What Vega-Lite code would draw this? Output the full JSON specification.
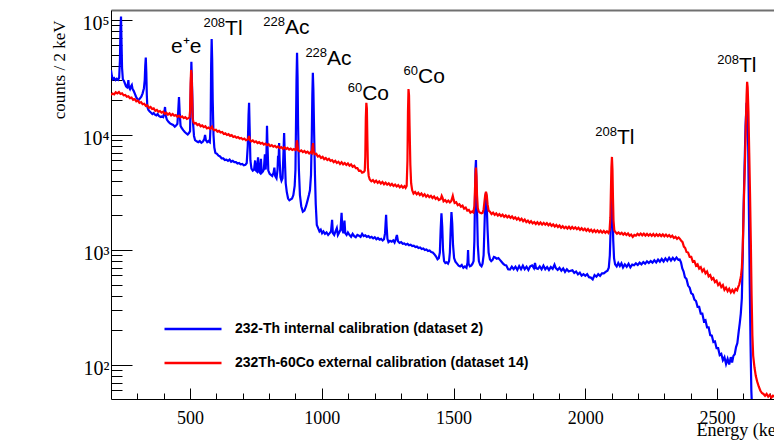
{
"$schema": "https://vega.github.io/schema/vega-lite/v6.json",
"width": 663, "height": 389,
"autosize": {"type": "none"},
"padding": {"left": 111, "top": 10, "right": 0, "bottom": 43},
"background": "white",
"config": {"view": {"stroke": null}, "axis": {"grid": false, "domainColor": "black", "tickColor": "black", "labelColor": "black", "titleColor": "black"}},
"resolve": {"axis": {"x": "independent", "y": "independent"}},
"datasets": {
"blue": [
{"E":200,"c":36500},{"E":203,"c":33000},{"E":207,"c":30500},{"E":212,"c":31200},{"E":217,"c":30000},{"E":222,"c":30800},{"E":227,"c":30200},{"E":231,"c":31500},{"E":234,"c":45000},{"E":236,"c":85000},{"E":238,"c":107000},{"E":240,"c":62000},{"E":242,"c":38000},{"E":245,"c":30500},{"E":249,"c":29500},{"E":253,"c":28000},{"E":257,"c":26500},{"E":261,"c":26000},{"E":264,"c":27500},{"E":266,"c":30000},{"E":268,"c":26000},{"E":272,"c":25000},{"E":276,"c":26500},{"E":279,"c":27200},{"E":282,"c":25000},{"E":286,"c":24200},{"E":290,"c":23000},{"E":295,"c":21500},{"E":300,"c":20500},{"E":305,"c":20100},{"E":310,"c":20800},{"E":315,"c":21500},{"E":320,"c":23000},{"E":325,"c":25500},{"E":328,"c":30000},{"E":330,"c":40000},{"E":332,"c":47000},{"E":334,"c":35000},{"E":336,"c":22000},{"E":338,"c":17500},{"E":342,"c":16500},{"E":347,"c":16000},{"E":352,"c":15600},{"E":357,"c":15200},{"E":362,"c":15500},{"E":367,"c":15000},{"E":372,"c":14800},{"E":377,"c":15200},{"E":382,"c":14600},{"E":388,"c":14300},{"E":393,"c":14500},{"E":398,"c":14300},{"E":402,"c":15500},{"E":405,"c":17500},{"E":408,"c":14600},{"E":412,"c":13600},{"E":418,"c":13000},{"E":424,"c":12600},{"E":430,"c":12400},{"E":436,"c":12200},{"E":442,"c":11800},{"E":447,"c":12100},{"E":452,"c":12500},{"E":455,"c":16000},{"E":458,"c":21400},{"E":461,"c":15000},{"E":464,"c":12000},{"E":468,"c":11500},{"E":474,"c":11000},{"E":480,"c":10600},{"E":486,"c":10300},{"E":491,"c":10100},{"E":496,"c":10400},{"E":500,"c":10800},{"E":502,"c":20000},{"E":505,"c":43200},{"E":508,"c":25000},{"E":511,"c":13000},{"E":515,"c":9800},{"E":519,"c":9000},{"E":525,"c":8800},{"E":531,"c":8650},{"E":537,"c":8850},{"E":543,"c":8550},{"E":549,"c":8750},{"E":554,"c":9200},{"E":557,"c":10000},{"E":560,"c":9000},{"E":565,"c":8650},{"E":570,"c":8850},{"E":575,"c":8650},{"E":578,"c":12000},{"E":580,"c":40000},{"E":582,"c":68300},{"E":584,"c":45000},{"E":586,"c":20000},{"E":589,"c":10000},{"E":592,"c":7800},{"E":596,"c":7000},{"E":602,"c":6850},{"E":608,"c":6600},{"E":614,"c":6500},{"E":620,"c":6250},{"E":626,"c":6250},{"E":632,"c":6050},{"E":638,"c":6100},{"E":644,"c":5950},{"E":650,"c":6100},{"E":656,"c":5850},{"E":662,"c":5950},{"E":668,"c":5800},{"E":674,"c":5800},{"E":680,"c":5650},{"E":686,"c":5700},{"E":692,"c":5560},{"E":698,"c":5600},{"E":704,"c":5450},{"E":710,"c":5500},{"E":715,"c":5700},{"E":719,"c":8000},{"E":722,"c":15000},{"E":724,"c":19000},{"E":726,"c":12000},{"E":729,"c":6000},{"E":733,"c":5100},{"E":738,"c":4900},{"E":743,"c":5000},{"E":747,"c":6000},{"E":750,"c":4900},{"E":754,"c":4800},{"E":758,"c":6400},{"E":761,"c":4800},{"E":765,"c":4700},{"E":769,"c":6200},{"E":772,"c":4700},{"E":776,"c":4800},{"E":780,"c":5000},{"E":784,"c":6800},{"E":787,"c":5000},{"E":790,"c":7000},{"E":792,"c":12000},{"E":794,"c":8000},{"E":797,"c":4900},{"E":802,"c":4600},{"E":807,"c":4500},{"E":812,"c":4400},{"E":817,"c":4700},{"E":820,"c":5200},{"E":823,"c":4400},{"E":828,"c":4200},{"E":832,"c":5000},{"E":834,"c":6600},{"E":836,"c":6000},{"E":838,"c":8500},{"E":840,"c":6000},{"E":843,"c":4300},{"E":847,"c":4000},{"E":851,"c":4200},{"E":854,"c":6500},{"E":857,"c":10400},{"E":860,"c":6000},{"E":863,"c":3800},{"E":867,"c":3200},{"E":872,"c":2800},{"E":877,"c":2700},{"E":882,"c":2750},{"E":887,"c":2800},{"E":892,"c":3000},{"E":897,"c":3600},{"E":900,"c":5000},{"E":902,"c":12000},{"E":904,"c":30000},{"E":906,"c":51700},{"E":908,"c":32000},{"E":910,"c":12000},{"E":913,"c":5000},{"E":917,"c":3000},{"E":922,"c":2400},{"E":928,"c":2150},{"E":934,"c":2200},{"E":940,"c":2400},{"E":946,"c":2700},{"E":951,"c":3000},{"E":955,"c":3300},{"E":959,"c":4500},{"E":962,"c":10000},{"E":964,"c":22000},{"E":966,"c":34700},{"E":968,"c":25000},{"E":971,"c":10000},{"E":974,"c":4500},{"E":977,"c":2500},{"E":981,"c":1650},{"E":986,"c":1550},{"E":991,"c":1450},{"E":996,"c":1500},{"E":1001,"c":1400},{"E":1006,"c":1450},{"E":1012,"c":1380},{"E":1018,"c":1420},{"E":1024,"c":1350},{"E":1030,"c":1400},{"E":1035,"c":1450},{"E":1039,"c":1830},{"E":1042,"c":1400},{"E":1047,"c":1350},{"E":1052,"c":1450},{"E":1057,"c":1550},{"E":1061,"c":1350},{"E":1066,"c":1420},{"E":1071,"c":1500},{"E":1075,"c":2100},{"E":1078,"c":1500},{"E":1082,"c":1400},{"E":1086,"c":1800},{"E":1089,"c":1400},{"E":1094,"c":1350},{"E":1099,"c":1420},{"E":1105,"c":1350},{"E":1111,"c":1300},{"E":1117,"c":1380},{"E":1123,"c":1320},{"E":1129,"c":1290},{"E":1135,"c":1350},{"E":1141,"c":1330},{"E":1147,"c":1300},{"E":1153,"c":1380},{"E":1159,"c":1320},{"E":1165,"c":1340},{"E":1171,"c":1300},{"E":1177,"c":1320},{"E":1183,"c":1280},{"E":1189,"c":1300},{"E":1195,"c":1260},{"E":1201,"c":1290},{"E":1207,"c":1240},{"E":1213,"c":1270},{"E":1219,"c":1230},{"E":1225,"c":1250},{"E":1231,"c":1210},{"E":1236,"c":1240},{"E":1240,"c":1400},{"E":1242,"c":1700},{"E":1244,"c":2020},{"E":1246,"c":1600},{"E":1249,"c":1250},{"E":1253,"c":1170},{"E":1259,"c":1200},{"E":1265,"c":1180},{"E":1271,"c":1210},{"E":1276,"c":1160},{"E":1281,"c":1250},{"E":1285,"c":1350},{"E":1289,"c":1190},{"E":1295,"c":1150},{"E":1301,"c":1170},{"E":1307,"c":1130},{"E":1313,"c":1140},{"E":1319,"c":1110},{"E":1325,"c":1130},{"E":1331,"c":1100},{"E":1337,"c":1110},{"E":1343,"c":1080},{"E":1349,"c":1090},{"E":1355,"c":1060},{"E":1361,"c":1070},{"E":1367,"c":1040},{"E":1373,"c":1050},{"E":1379,"c":1020},{"E":1385,"c":1030},{"E":1391,"c":1000},{"E":1397,"c":1010},{"E":1403,"c":980},{"E":1409,"c":990},{"E":1415,"c":960},{"E":1421,"c":950},{"E":1427,"c":920},{"E":1433,"c":880},{"E":1439,"c":830},{"E":1444,"c":850},{"E":1448,"c":950},{"E":1451,"c":1500},{"E":1454,"c":2080},{"E":1457,"c":1600},{"E":1460,"c":1000},{"E":1464,"c":800},{"E":1469,"c":770},{"E":1474,"c":780},{"E":1479,"c":760},{"E":1483,"c":800},{"E":1486,"c":950},{"E":1489,"c":1500},{"E":1492,"c":2140},{"E":1495,"c":1700},{"E":1498,"c":1100},{"E":1502,"c":850},{"E":1507,"c":790},{"E":1513,"c":760},{"E":1519,"c":730},{"E":1525,"c":720},{"E":1531,"c":740},{"E":1537,"c":700},{"E":1543,"c":720},{"E":1549,"c":700},{"E":1553,"c":780},{"E":1555,"c":1000},{"E":1557,"c":760},{"E":1562,"c":720},{"E":1567,"c":730},{"E":1572,"c":760},{"E":1576,"c":800},{"E":1579,"c":1200},{"E":1581,"c":2500},{"E":1583,"c":5000},{"E":1585,"c":6050},{"E":1587,"c":3500},{"E":1589,"c":2200},{"E":1592,"c":1100},{"E":1596,"c":800},{"E":1601,"c":740},{"E":1606,"c":720},{"E":1610,"c":760},{"E":1614,"c":900},{"E":1617,"c":1500},{"E":1620,"c":2600},{"E":1623,"c":3130},{"E":1626,"c":2400},{"E":1629,"c":1500},{"E":1633,"c":950},{"E":1638,"c":830},{"E":1643,"c":800},{"E":1648,"c":820},{"E":1653,"c":870},{"E":1658,"c":860},{"E":1664,"c":840},{"E":1670,"c":850},{"E":1676,"c":820},{"E":1682,"c":790},{"E":1688,"c":760},{"E":1694,"c":740},{"E":1700,"c":735},{"E":1707,"c":680},{"E":1714,"c":675},{"E":1721,"c":715},{"E":1728,"c":680},{"E":1735,"c":715},{"E":1742,"c":670},{"E":1749,"c":725},{"E":1756,"c":680},{"E":1763,"c":730},{"E":1770,"c":680},{"E":1777,"c":715},{"E":1784,"c":670},{"E":1791,"c":720},{"E":1798,"c":735},{"E":1805,"c":695},{"E":1809,"c":770},{"E":1813,"c":695},{"E":1820,"c":685},{"E":1827,"c":720},{"E":1834,"c":680},{"E":1841,"c":730},{"E":1848,"c":680},{"E":1855,"c":710},{"E":1862,"c":670},{"E":1869,"c":710},{"E":1876,"c":685},{"E":1883,"c":745},{"E":1888,"c":695},{"E":1895,"c":670},{"E":1902,"c":700},{"E":1909,"c":660},{"E":1916,"c":690},{"E":1923,"c":645},{"E":1930,"c":680},{"E":1937,"c":650},{"E":1944,"c":660},{"E":1951,"c":665},{"E":1958,"c":632},{"E":1965,"c":650},{"E":1972,"c":615},{"E":1979,"c":635},{"E":1986,"c":598},{"E":1993,"c":615},{"E":2000,"c":595},{"E":2007,"c":615},{"E":2014,"c":580},{"E":2021,"c":575},{"E":2028,"c":555},{"E":2035,"c":605},{"E":2042,"c":585},{"E":2049,"c":615},{"E":2056,"c":595},{"E":2063,"c":625},{"E":2070,"c":625},{"E":2077,"c":645},{"E":2084,"c":660},{"E":2089,"c":700},{"E":2093,"c":900},{"E":2096,"c":1500},{"E":2099,"c":2400},{"E":2101,"c":2830},{"E":2103,"c":2200},{"E":2106,"c":1200},{"E":2109,"c":850},{"E":2113,"c":750},{"E":2119,"c":720},{"E":2125,"c":770},{"E":2131,"c":725},{"E":2137,"c":765},{"E":2143,"c":705},{"E":2150,"c":750},{"E":2157,"c":715},{"E":2164,"c":760},{"E":2171,"c":705},{"E":2178,"c":745},{"E":2185,"c":735},{"E":2192,"c":765},{"E":2199,"c":740},{"E":2206,"c":775},{"E":2213,"c":750},{"E":2220,"c":785},{"E":2227,"c":760},{"E":2234,"c":795},{"E":2241,"c":770},{"E":2248,"c":800},{"E":2255,"c":775},{"E":2262,"c":815},{"E":2269,"c":780},{"E":2276,"c":825},{"E":2283,"c":790},{"E":2290,"c":835},{"E":2297,"c":795},{"E":2304,"c":845},{"E":2311,"c":805},{"E":2318,"c":855},{"E":2325,"c":810},{"E":2332,"c":855},{"E":2339,"c":815},{"E":2346,"c":860},{"E":2353,"c":820},{"E":2358,"c":825},{"E":2363,"c":780},{"E":2368,"c":690},{"E":2373,"c":650},{"E":2378,"c":580},{"E":2384,"c":560},{"E":2390,"c":490},{"E":2396,"c":470},{"E":2402,"c":420},{"E":2408,"c":410},{"E":2414,"c":370},{"E":2420,"c":360},{"E":2426,"c":320},{"E":2432,"c":320},{"E":2438,"c":280},{"E":2444,"c":280},{"E":2450,"c":240},{"E":2456,"c":245},{"E":2462,"c":212},{"E":2468,"c":212},{"E":2474,"c":182},{"E":2480,"c":180},{"E":2486,"c":158},{"E":2492,"c":160},{"E":2498,"c":140},{"E":2504,"c":140},{"E":2510,"c":122},{"E":2516,"c":125},{"E":2522,"c":110},{"E":2528,"c":117},{"E":2534,"c":102},{"E":2540,"c":113},{"E":2546,"c":101},{"E":2552,"c":117},{"E":2557,"c":105},{"E":2562,"c":120},{"E":2567,"c":124},{"E":2572,"c":143},{"E":2577,"c":155},{"E":2582,"c":195},{"E":2586,"c":230},{"E":2590,"c":280},{"E":2594,"c":380},{"E":2597,"c":800},{"E":2600,"c":2000},{"E":2604,"c":5000},{"E":2608,"c":12000},{"E":2612,"c":19000},{"E":2615,"c":16000},{"E":2618,"c":8000},{"E":2621,"c":2000},{"E":2624,"c":500},{"E":2627,"c":150},{"E":2630,"c":60},{"E":2633,"c":40}
],
"red": [
{"E":200,"c":22300},{"E":206,"c":22900},{"E":212,"c":22500},{"E":218,"c":23500},{"E":224,"c":23000},{"E":230,"c":23600},{"E":236,"c":22700},{"E":242,"c":23000},{"E":248,"c":22100},{"E":254,"c":22300},{"E":260,"c":21500},{"E":266,"c":21700},{"E":272,"c":20900},{"E":278,"c":21100},{"E":284,"c":20200},{"E":290,"c":20500},{"E":296,"c":19600},{"E":302,"c":19900},{"E":308,"c":19000},{"E":314,"c":19300},{"E":320,"c":18500},{"E":326,"c":18700},{"E":332,"c":17900},{"E":338,"c":18100},{"E":344,"c":17200},{"E":350,"c":17500},{"E":356,"c":16800},{"E":362,"c":17000},{"E":368,"c":16200},{"E":374,"c":16500},{"E":380,"c":15900},{"E":386,"c":16100},{"E":392,"c":15600},{"E":398,"c":15900},{"E":404,"c":15300},{"E":410,"c":15600},{"E":416,"c":15000},{"E":422,"c":15400},{"E":428,"c":14800},{"E":434,"c":15200},{"E":440,"c":14700},{"E":446,"c":14900},{"E":452,"c":14400},{"E":458,"c":14700},{"E":464,"c":14200},{"E":470,"c":14500},{"E":476,"c":14000},{"E":482,"c":14300},{"E":488,"c":13800},{"E":494,"c":14000},{"E":498,"c":14200},{"E":500,"c":16000},{"E":502,"c":28000},{"E":504,"c":36700},{"E":506,"c":34000},{"E":508,"c":22000},{"E":510,"c":14000},{"E":513,"c":12900},{"E":517,"c":12600},{"E":522,"c":12700},{"E":528,"c":12200},{"E":534,"c":12400},{"E":540,"c":11900},{"E":546,"c":12100},{"E":552,"c":11700},{"E":558,"c":11900},{"E":564,"c":11400},{"E":570,"c":11600},{"E":576,"c":11300},{"E":580,"c":11600},{"E":583,"c":11800},{"E":586,"c":11300},{"E":592,"c":11000},{"E":598,"c":11100},{"E":604,"c":10700},{"E":610,"c":10850},{"E":616,"c":10500},{"E":622,"c":10600},{"E":628,"c":10200},{"E":634,"c":10350},{"E":640,"c":10000},{"E":646,"c":10150},{"E":652,"c":9800},{"E":658,"c":9950},{"E":664,"c":9600},{"E":670,"c":9750},{"E":676,"c":9450},{"E":682,"c":9600},{"E":688,"c":9300},{"E":694,"c":9400},{"E":700,"c":9150},{"E":706,"c":9300},{"E":712,"c":9000},{"E":718,"c":9100},{"E":721,"c":9300},{"E":724,"c":9800},{"E":727,"c":9000},{"E":732,"c":8800},{"E":738,"c":8950},{"E":744,"c":8650},{"E":750,"c":8800},{"E":756,"c":8500},{"E":762,"c":8650},{"E":768,"c":8400},{"E":774,"c":8550},{"E":780,"c":8250},{"E":786,"c":8400},{"E":792,"c":8150},{"E":798,"c":8300},{"E":804,"c":8000},{"E":810,"c":8150},{"E":816,"c":7900},{"E":822,"c":8050},{"E":828,"c":7800},{"E":834,"c":7950},{"E":840,"c":7700},{"E":846,"c":7850},{"E":852,"c":7600},{"E":858,"c":7800},{"E":864,"c":7550},{"E":870,"c":7700},{"E":876,"c":7450},{"E":882,"c":7600},{"E":888,"c":7400},{"E":894,"c":7550},{"E":900,"c":7400},{"E":903,"c":7600},{"E":905,"c":9000},{"E":907,"c":8500},{"E":910,"c":7350},{"E":916,"c":7200},{"E":922,"c":7350},{"E":928,"c":7100},{"E":934,"c":7250},{"E":940,"c":7000},{"E":946,"c":7150},{"E":952,"c":6900},{"E":958,"c":7100},{"E":962,"c":6950},{"E":965,"c":8000},{"E":967,"c":8500},{"E":969,"c":7200},{"E":973,"c":6800},{"E":979,"c":6850},{"E":985,"c":6500},{"E":991,"c":6600},{"E":997,"c":6300},{"E":1003,"c":6450},{"E":1009,"c":6150},{"E":1015,"c":6300},{"E":1021,"c":6050},{"E":1027,"c":6200},{"E":1033,"c":5950},{"E":1039,"c":6050},{"E":1045,"c":5800},{"E":1051,"c":5950},{"E":1057,"c":5700},{"E":1063,"c":5850},{"E":1069,"c":5600},{"E":1075,"c":5800},{"E":1081,"c":5550},{"E":1087,"c":5700},{"E":1093,"c":5480},{"E":1099,"c":5650},{"E":1105,"c":5400},{"E":1111,"c":5550},{"E":1117,"c":5300},{"E":1123,"c":5400},{"E":1129,"c":5150},{"E":1135,"c":5150},{"E":1141,"c":4880},{"E":1147,"c":4900},{"E":1153,"c":4700},{"E":1159,"c":4750},{"E":1163,"c":4900},{"E":1165,"c":6500},{"E":1167,"c":14000},{"E":1169,"c":19000},{"E":1171,"c":17000},{"E":1173,"c":9000},{"E":1175,"c":5200},{"E":1178,"c":4400},{"E":1182,"c":4100},{"E":1188,"c":3950},{"E":1194,"c":4050},{"E":1200,"c":3880},{"E":1206,"c":4000},{"E":1212,"c":3830},{"E":1218,"c":3950},{"E":1224,"c":3780},{"E":1230,"c":3900},{"E":1236,"c":3730},{"E":1242,"c":3850},{"E":1248,"c":3700},{"E":1254,"c":3800},{"E":1260,"c":3640},{"E":1266,"c":3750},{"E":1272,"c":3600},{"E":1278,"c":3700},{"E":1284,"c":3560},{"E":1290,"c":3660},{"E":1296,"c":3500},{"E":1302,"c":3620},{"E":1308,"c":3480},{"E":1314,"c":3580},{"E":1318,"c":3470},{"E":1322,"c":3600},{"E":1325,"c":6000},{"E":1327,"c":16000},{"E":1329,"c":25100},{"E":1331,"c":22000},{"E":1333,"c":12000},{"E":1336,"c":5500},{"E":1339,"c":3800},{"E":1343,"c":3300},{"E":1348,"c":3100},{"E":1354,"c":3200},{"E":1360,"c":3050},{"E":1366,"c":3150},{"E":1372,"c":3000},{"E":1378,"c":3100},{"E":1384,"c":2950},{"E":1390,"c":3050},{"E":1396,"c":2900},{"E":1402,"c":3000},{"E":1408,"c":2880},{"E":1414,"c":2960},{"E":1420,"c":2830},{"E":1426,"c":2920},{"E":1432,"c":2780},{"E":1438,"c":2850},{"E":1444,"c":2720},{"E":1449,"c":2760},{"E":1452,"c":2800},{"E":1455,"c":2950},{"E":1458,"c":2850},{"E":1462,"c":2650},{"E":1468,"c":2720},{"E":1474,"c":2610},{"E":1480,"c":2690},{"E":1486,"c":2590},{"E":1491,"c":2660},{"E":1494,"c":2800},{"E":1497,"c":2950},{"E":1500,"c":2750},{"E":1504,"c":2560},{"E":1510,"c":2600},{"E":1516,"c":2450},{"E":1522,"c":2500},{"E":1528,"c":2380},{"E":1534,"c":2430},{"E":1540,"c":2290},{"E":1546,"c":2340},{"E":1552,"c":2200},{"E":1558,"c":2230},{"E":1564,"c":2110},{"E":1570,"c":2160},{"E":1575,"c":2120},{"E":1579,"c":2400},{"E":1581,"c":3200},{"E":1583,"c":4500},{"E":1585,"c":5200},{"E":1587,"c":4400},{"E":1589,"c":3000},{"E":1592,"c":2300},{"E":1596,"c":2150},{"E":1601,"c":2100},{"E":1606,"c":2080},{"E":1610,"c":2100},{"E":1614,"c":2250},{"E":1617,"c":2600},{"E":1620,"c":3000},{"E":1623,"c":3200},{"E":1626,"c":3000},{"E":1629,"c":2500},{"E":1633,"c":2200},{"E":1638,"c":2150},{"E":1644,"c":2050},{"E":1650,"c":2110},{"E":1656,"c":2020},{"E":1662,"c":2080},{"E":1668,"c":1990},{"E":1674,"c":2050},{"E":1680,"c":1970},{"E":1686,"c":2030},{"E":1692,"c":1940},{"E":1698,"c":2000},{"E":1704,"c":1920},{"E":1710,"c":1980},{"E":1716,"c":1900},{"E":1722,"c":1960},{"E":1728,"c":1870},{"E":1734,"c":1920},{"E":1740,"c":1840},{"E":1746,"c":1900},{"E":1752,"c":1810},{"E":1758,"c":1870},{"E":1764,"c":1780},{"E":1770,"c":1840},{"E":1776,"c":1750},{"E":1782,"c":1800},{"E":1788,"c":1720},{"E":1794,"c":1780},{"E":1800,"c":1700},{"E":1806,"c":1750},{"E":1812,"c":1680},{"E":1818,"c":1740},{"E":1824,"c":1670},{"E":1830,"c":1730},{"E":1836,"c":1660},{"E":1842,"c":1720},{"E":1848,"c":1660},{"E":1854,"c":1710},{"E":1860,"c":1640},{"E":1866,"c":1690},{"E":1872,"c":1620},{"E":1878,"c":1670},{"E":1884,"c":1600},{"E":1890,"c":1650},{"E":1896,"c":1580},{"E":1902,"c":1630},{"E":1908,"c":1560},{"E":1914,"c":1610},{"E":1920,"c":1545},{"E":1926,"c":1590},{"E":1932,"c":1535},{"E":1938,"c":1590},{"E":1944,"c":1530},{"E":1950,"c":1585},{"E":1956,"c":1530},{"E":1962,"c":1575},{"E":1968,"c":1515},{"E":1974,"c":1560},{"E":1980,"c":1495},{"E":1986,"c":1545},{"E":1992,"c":1485},{"E":1998,"c":1530},{"E":2004,"c":1470},{"E":2010,"c":1520},{"E":2016,"c":1455},{"E":2022,"c":1500},{"E":2028,"c":1435},{"E":2034,"c":1490},{"E":2040,"c":1430},{"E":2046,"c":1480},{"E":2052,"c":1425},{"E":2058,"c":1470},{"E":2064,"c":1415},{"E":2070,"c":1465},{"E":2076,"c":1410},{"E":2082,"c":1455},{"E":2088,"c":1405},{"E":2092,"c":1480},{"E":2095,"c":1900},{"E":2097,"c":3200},{"E":2099,"c":5200},{"E":2101,"c":6440},{"E":2103,"c":5000},{"E":2105,"c":2800},{"E":2107,"c":1800},{"E":2110,"c":1480},{"E":2114,"c":1430},{"E":2120,"c":1385},{"E":2126,"c":1420},{"E":2132,"c":1375},{"E":2138,"c":1410},{"E":2144,"c":1360},{"E":2150,"c":1400},{"E":2156,"c":1350},{"E":2162,"c":1390},{"E":2168,"c":1330},{"E":2174,"c":1360},{"E":2180,"c":1300},{"E":2186,"c":1350},{"E":2192,"c":1330},{"E":2198,"c":1380},{"E":2204,"c":1345},{"E":2210,"c":1390},{"E":2216,"c":1340},{"E":2222,"c":1385},{"E":2228,"c":1335},{"E":2234,"c":1380},{"E":2240,"c":1330},{"E":2246,"c":1375},{"E":2252,"c":1325},{"E":2258,"c":1375},{"E":2264,"c":1320},{"E":2270,"c":1370},{"E":2276,"c":1325},{"E":2282,"c":1365},{"E":2288,"c":1320},{"E":2294,"c":1365},{"E":2300,"c":1315},{"E":2306,"c":1360},{"E":2312,"c":1310},{"E":2318,"c":1345},{"E":2324,"c":1295},{"E":2330,"c":1330},{"E":2336,"c":1270},{"E":2342,"c":1300},{"E":2348,"c":1250},{"E":2354,"c":1285},{"E":2359,"c":1250},{"E":2364,"c":1200},{"E":2369,"c":1170},{"E":2374,"c":1070},{"E":2379,"c":1040},{"E":2384,"c":960},{"E":2390,"c":950},{"E":2396,"c":870},{"E":2402,"c":870},{"E":2408,"c":790},{"E":2414,"c":800},{"E":2420,"c":730},{"E":2426,"c":750},{"E":2432,"c":690},{"E":2438,"c":710},{"E":2444,"c":650},{"E":2450,"c":680},{"E":2456,"c":625},{"E":2462,"c":650},{"E":2468,"c":590},{"E":2474,"c":605},{"E":2480,"c":555},{"E":2486,"c":570},{"E":2492,"c":525},{"E":2498,"c":540},{"E":2504,"c":495},{"E":2510,"c":515},{"E":2516,"c":475},{"E":2522,"c":495},{"E":2528,"c":450},{"E":2534,"c":470},{"E":2540,"c":438},{"E":2546,"c":460},{"E":2552,"c":428},{"E":2558,"c":450},{"E":2564,"c":428},{"E":2570,"c":458},{"E":2576,"c":445},{"E":2580,"c":475},{"E":2584,"c":500},{"E":2588,"c":550},{"E":2591,"c":600},{"E":2594,"c":700},{"E":2597,"c":1000},{"E":2600,"c":1800},{"E":2603,"c":3500},{"E":2606,"c":6000},{"E":2609,"c":12000},{"E":2612,"c":22000},{"E":2614,"c":29000},{"E":2616,"c":26000},{"E":2619,"c":16000},{"E":2622,"c":7000},{"E":2625,"c":3100},{"E":2628,"c":1200},{"E":2631,"c":400},{"E":2634,"c":180},{"E":2637,"c":120},{"E":2642,"c":95},{"E":2647,"c":80},{"E":2652,"c":72},{"E":2658,"c":65},{"E":2664,"c":60},{"E":2670,"c":57},{"E":2676,"c":56},{"E":2682,"c":54},{"E":2688,"c":56},{"E":2694,"c":53},{"E":2700,"c":55},{"E":2706,"c":52},{"E":2712,"c":54},{"E":2718,"c":53}
],
"labels": [
{"E":633,"c":74100,"sup":"208","txt":"Tl"},
{"E":428,"c":51600,"sup":"","txt":"e⁺e"},
{"E":860,"c":75500,"sup":"228","txt":"Ac"},
{"E":1020,"c":40600,"sup":"228","txt":"Ac"},
{"E":1153,"c":20200,"sup":"60","txt":"Co"},
{"E":1365,"c":28300,"sup":"60","txt":"Co"},
{"E":2120,"c":8360,"sup":"208","txt":"Tl"},
{"E":2583,"c":35300,"sup":"208","txt":"Tl"}
]
},
"layer": [
{
"data": {"name": "blue"},
"mark": {"type": "line", "strokeWidth": 2.2, "clip": true},
"encoding": {
"x": {"field": "E", "type": "quantitative", "scale": {"domain": [200, 2716], "nice": false, "zero": false},
 "axis": {"orient": "bottom", "values": [500, 1000, 1500, 2000, 2500], "format": "d", "ticks": false, "labelFont": "Liberation Serif", "labelFontSize": 18, "labelPadding": 10, "labelFlush": false, "labelOverlap": false, "domainColor": "black", "domainWidth": 1,
  "title": "Energy (keV)", "titleFont": "Liberation Serif", "titleFontSize": 18, "titleFontWeight": "normal", "titleX": 585, "titleY": 36, "titleAlign": "left", "titleBaseline": "alphabetic"}},
"y": {"field": "c", "type": "quantitative", "scale": {"type": "log", "domain": [50.6, 122000], "nice": false},
 "axis": {"orient": "left", "values": [100, 1000, 10000, 100000], "ticks": false, "labelExpr": "datum.value == 100 ? '10²' : datum.value == 1000 ? '10³' : datum.value == 10000 ? '10⁴' : '10⁵'", "labelFont": "Liberation Serif", "labelFontSize": 20, "labelPadding": 2, "labelBaseline": "middle", "labelOffset": 4, "labelOverlap": false, "domainColor": "black", "domainWidth": 1,
  "title": "counts / 2 keV", "titleFont": "Liberation Serif", "titleFontSize": 17, "titleFontWeight": "normal", "titleAngle": 270, "titleX": -47, "titleY": 10, "titleAlign": "right", "titleBaseline": "alphabetic"}},
"color": {"datum": "232-Th internal calibration (dataset 2)", "type": "nominal",
 "scale": {"domain": ["232-Th internal calibration (dataset 2)", "232Th-60Co external calibration (dataset 14)"], "range": ["#0000ff", "#ff0000"]},
 "legend": {"orient": "none", "legendX": 52, "legendY": 309, "title": null, "symbolType": "stroke", "symbolSize": 3249, "symbolStrokeWidth": 2.5, "clipHeight": 20, "labelFont": "Liberation Sans", "labelFontSize": 14, "labelFontWeight": "bold", "labelColor": "black", "labelOffset": 12, "rowPadding": 14, "labelLimit": 0}}
}
},
{
"data": {"name": "red"},
"mark": {"type": "line", "strokeWidth": 2.2, "clip": true},
"encoding": {
"x": {"field": "E", "type": "quantitative", "scale": {"domain": [200, 2716], "nice": false, "zero": false},
 "axis": {"orient": "bottom", "values": [300,400,500,600,700,800,900,1000,1100,1200,1300,1400,1500,1600,1700,1800,1900,2000,2100,2200,2300,2400,2500,2600,2700], "tickSize": -6, "labels": false, "domain": false, "title": null}},
"y": {"field": "c", "type": "quantitative", "scale": {"type": "log", "domain": [50.6, 122000], "nice": false},
 "axis": {"orient": "left", "values": [60,70,80,90,200,300,400,500,600,700,800,900,2000,3000,4000,5000,6000,7000,8000,9000,20000,30000,40000,50000,60000,70000,80000,90000], "tickSize": -11, "labels": false, "domain": false, "title": null}},
"color": {"datum": "232Th-60Co external calibration (dataset 14)", "type": "nominal"}
}
},
{
"data": {"name": "labels"},
"mark": {"type": "text", "align": "right", "baseline": "alphabetic", "dy": -8, "font": "Liberation Sans", "fontSize": 13, "color": "black"},
"encoding": {
"x": {"field": "E", "type": "quantitative", "scale": {"domain": [200, 2716], "nice": false, "zero": false},
 "axis": {"orient": "top", "ticks": false, "labels": false, "domainColor": "#707070", "domainWidth": 2, "title": null}},
"y": {"field": "c", "type": "quantitative", "scale": {"type": "log", "domain": [50.6, 122000], "nice": false},
 "axis": {"orient": "left", "values": [100, 1000, 10000, 100000], "tickSize": -21, "labels": false, "domain": false, "title": null}},
"text": {"field": "sup"}
}
},
{
"data": {"name": "labels"},
"mark": {"type": "text", "align": "left", "baseline": "alphabetic", "font": "Liberation Sans", "fontSize": 21, "color": "black"},
"encoding": {
"x": {"field": "E", "type": "quantitative", "scale": {"domain": [200, 2716], "nice": false, "zero": false},
 "axis": {"orient": "bottom", "values": [500, 1000, 1500, 2000, 2500], "tickSize": -11, "labels": false, "domain": false, "title": null}},
"y": {"field": "c", "type": "quantitative", "scale": {"type": "log", "domain": [50.6, 122000], "nice": false}, "axis": null},
"text": {"field": "txt"}
}
}
]
}
